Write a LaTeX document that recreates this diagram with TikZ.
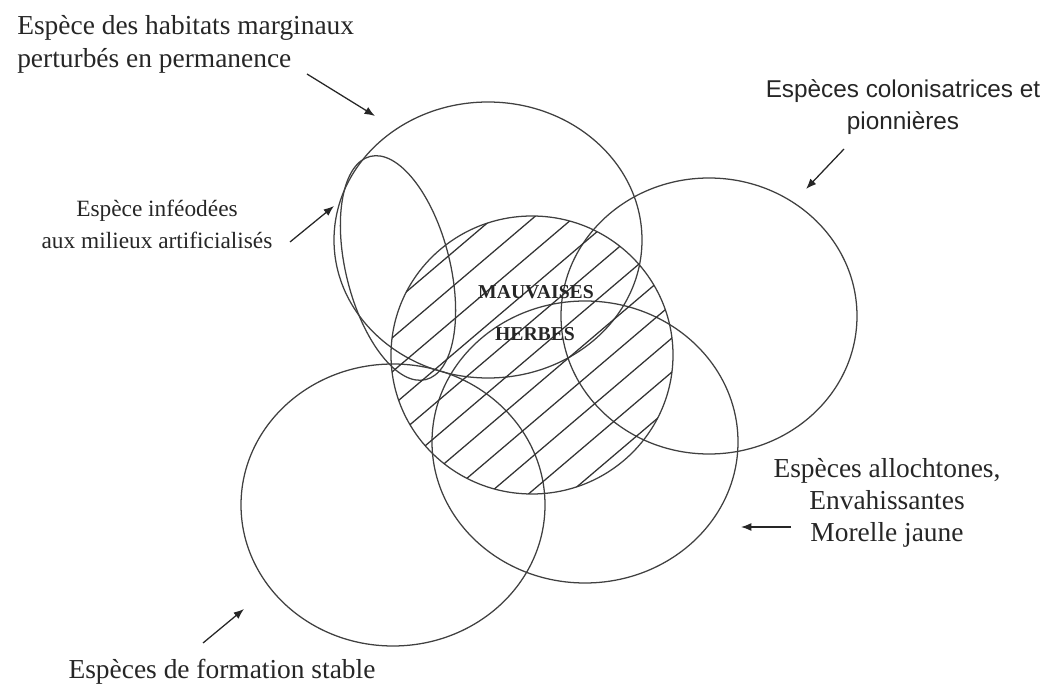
\documentclass[tikz,border=0pt]{standalone}
\usepackage{fontspec}
\setmainfont{Liberation Serif}
\newfontfamily\sanslabel{Liberation Sans}
\usetikzlibrary{arrows.meta}
\tikzset{>={Latex[width=2mm,length=2.6mm]}}
\tikzset{
  zone/.style={draw=black!75, line width=0.9pt},
  hatchline/.style={draw=black!80, line width=0.9pt},
  legend/.style={font=\fontsize{19.5}{23.4}\selectfont, text=black!85, inner sep=0pt},
  pointer/.style={->, draw=black!85, line width=0.9pt},
}

\begin{document}
\begin{tikzpicture}[x=0.025cm, y=-0.025cm]
    \useasboundingbox (0,0) rectangle (1047,688);

    % zones
    \draw[zone] (488,240) ellipse [x radius=154, y radius=138];
    \draw[zone, rotate around={14:(398,268)}] (398,268) ellipse [x radius=52, y radius=115];
    \draw[zone] (532,355) ellipse [x radius=141, y radius=139];
    \draw[zone] (709,316) ellipse [x radius=148, y radius=138];
    \draw[zone] (585,442) ellipse [x radius=153, y radius=141];
    \draw[zone] (393,505) ellipse [x radius=152, y radius=141];

    % hatching of the centre
    \begin{scope}
      \clip (532,355) ellipse [x radius=141, y radius=139];
      \foreach \k in {-6,...,6}
        \draw[hatchline] ({532+\k*40-300},610) -- ++(600,-510);
    \end{scope}

    \node[font=\bfseries\fontsize{14}{16}\selectfont, text=black!85] (mauvaises) at (536,292) {MAUVAISES};
    \node[font=\bfseries\fontsize{14}{16}\selectfont, text=black!85] (herbes) at (535,334) {HERBES};

    % labels
    \node[legend, align=left, anchor=west] (marginaux) at (17,44) {Espèce des habitats marginaux\\perturbés en permanence};
    \node[legend, font=\sanslabel\fontsize{17.3}{22.7}\selectfont, align=center] (pionnieres) at (903,107) {Espèces colonisatrices et\\pionnières};
    \node[legend, font=\fontsize{16.6}{22.7}\selectfont, align=center] (artificiel) at (157,224) {Espèce inféodées\\aux milieux artificialisés};
    \node[legend, font=\fontsize{19.5}{22.5}\selectfont, align=center] (allochtones) at (887,503) {Espèces allochtones,\\Envahissantes\\Morelle jaune};
    \node[legend] (stable) at (222,672) {Espèces de formation stable};

    % arrows
    \coordinate (marginaux-tail) at (307,74);
    \coordinate (marginaux-tip) at (375,116);
    \coordinate (pionnieres-tail) at (844,149);
    \coordinate (pionnieres-tip) at (806,189);
    \coordinate (artificiel-tail) at (290,242);
    \coordinate (artificiel-tip) at (334,206);
    \coordinate (allochtones-tail) at (791,527);
    \coordinate (allochtones-tip) at (741,527);
    \coordinate (stable-tail) at (203,643);
    \coordinate (stable-tip) at (244,609);
    \draw[pointer] (marginaux-tail) -- (marginaux-tip);
    \draw[pointer] (pionnieres-tail) -- (pionnieres-tip);
    \draw[pointer] (artificiel-tail) -- (artificiel-tip);
    \draw[pointer] (allochtones-tail) -- (allochtones-tip);
    \draw[pointer] (stable-tail) -- (stable-tip);
\end{tikzpicture}
\end{document}
